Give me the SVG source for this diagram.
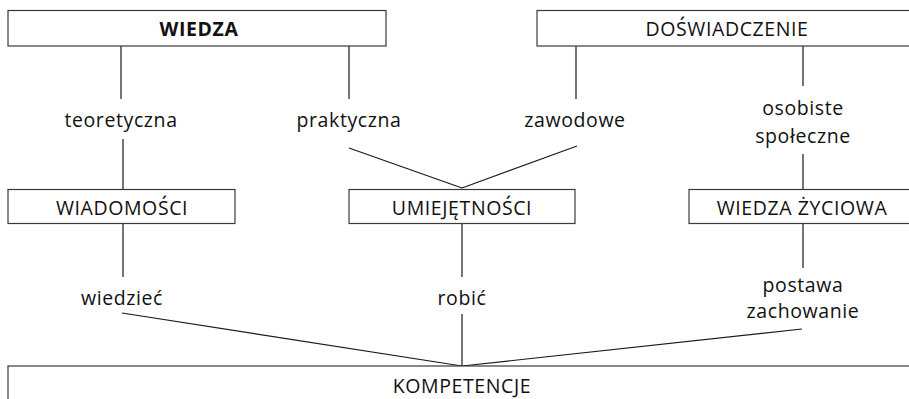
<svg xmlns="http://www.w3.org/2000/svg" width="909" height="399" viewBox="0 0 909 399">
  <style>
    .box { fill: #ffffff; stroke: #3a3a3a; stroke-width: 1.2; }
    .lbl { font-family: "Open Sans", "Noto Sans", "Liberation Sans", sans-serif; font-size: 19.5px; letter-spacing: 0.6px; fill: #111111; text-anchor: middle; }
    .bold { font-weight: bold; }
    .conn line { stroke: #1a1a1a; stroke-width: 1.2; }
  </style>
  <rect width="909" height="399" fill="#ffffff"/>

  <!-- connectors -->
  <g id="connectors" class="conn">
    <line x1="121" y1="46" x2="121" y2="99"/>
    <line x1="349" y1="46" x2="349" y2="99"/>
    <line x1="576" y1="46" x2="576" y2="99"/>
    <line x1="803" y1="46" x2="803" y2="86"/>
    <line x1="123" y1="139" x2="123" y2="190"/>
    <line x1="349" y1="148" x2="462" y2="188"/>
    <line x1="577" y1="146" x2="462" y2="188"/>
    <line x1="803" y1="154" x2="803" y2="190"/>
    <line x1="123" y1="224" x2="123" y2="277"/>
    <line x1="462" y1="224" x2="462" y2="277"/>
    <line x1="803" y1="224" x2="803" y2="268"/>
    <line x1="122" y1="313" x2="462" y2="366"/>
    <line x1="462" y1="314" x2="462" y2="366"/>
    <line x1="802" y1="329" x2="462" y2="366"/>
  </g>

  <!-- top row -->
  <g id="wiedza">
    <rect class="box" x="8" y="10.5" width="378" height="35.5"/>
    <text class="lbl bold" x="199" y="36">WIEDZA</text>
  </g>
  <g id="doswiadczenie">
    <rect class="box" x="537" y="10.5" width="390" height="35.5"/>
    <text class="lbl" x="727" y="36">DOŚWIADCZENIE</text>
  </g>

  <!-- edge labels, upper level -->
  <g id="teoretyczna"><text class="lbl" x="121" y="127">teoretyczna</text></g>
  <g id="praktyczna"><text class="lbl" x="349" y="127">praktyczna</text></g>
  <g id="zawodowe"><text class="lbl" x="575" y="127">zawodowe</text></g>
  <g id="osobiste-spoleczne">
    <text class="lbl" x="803" y="115">osobiste</text>
    <text class="lbl" x="803" y="143">społeczne</text>
  </g>

  <!-- middle row -->
  <g id="wiadomosci">
    <rect class="box" x="8" y="189.5" width="227" height="34"/>
    <text class="lbl" x="122" y="215">WIADOMOŚCI</text>
  </g>
  <g id="umiejetnosci">
    <rect class="box" x="349" y="189.5" width="226" height="34"/>
    <text class="lbl" x="462" y="215">UMIEJĘTNOŚCI</text>
  </g>
  <g id="wiedza-zyciowa">
    <rect class="box" x="689" y="189.5" width="240" height="34"/>
    <text class="lbl" x="802" y="215">WIEDZA ŻYCIOWA</text>
  </g>

  <!-- edge labels, lower level -->
  <g id="wiedziec"><text class="lbl" x="122" y="305">wiedzieć</text></g>
  <g id="robic"><text class="lbl" x="462" y="305">robić</text></g>
  <g id="postawa-zachowanie">
    <text class="lbl" x="803" y="292">postawa</text>
    <text class="lbl" x="803" y="318">zachowanie</text>
  </g>

  <!-- bottom -->
  <g id="kompetencje">
    <rect class="box" x="8" y="366" width="920" height="50"/>
    <text class="lbl" x="462" y="393">KOMPETENCJE</text>
  </g>
</svg>
